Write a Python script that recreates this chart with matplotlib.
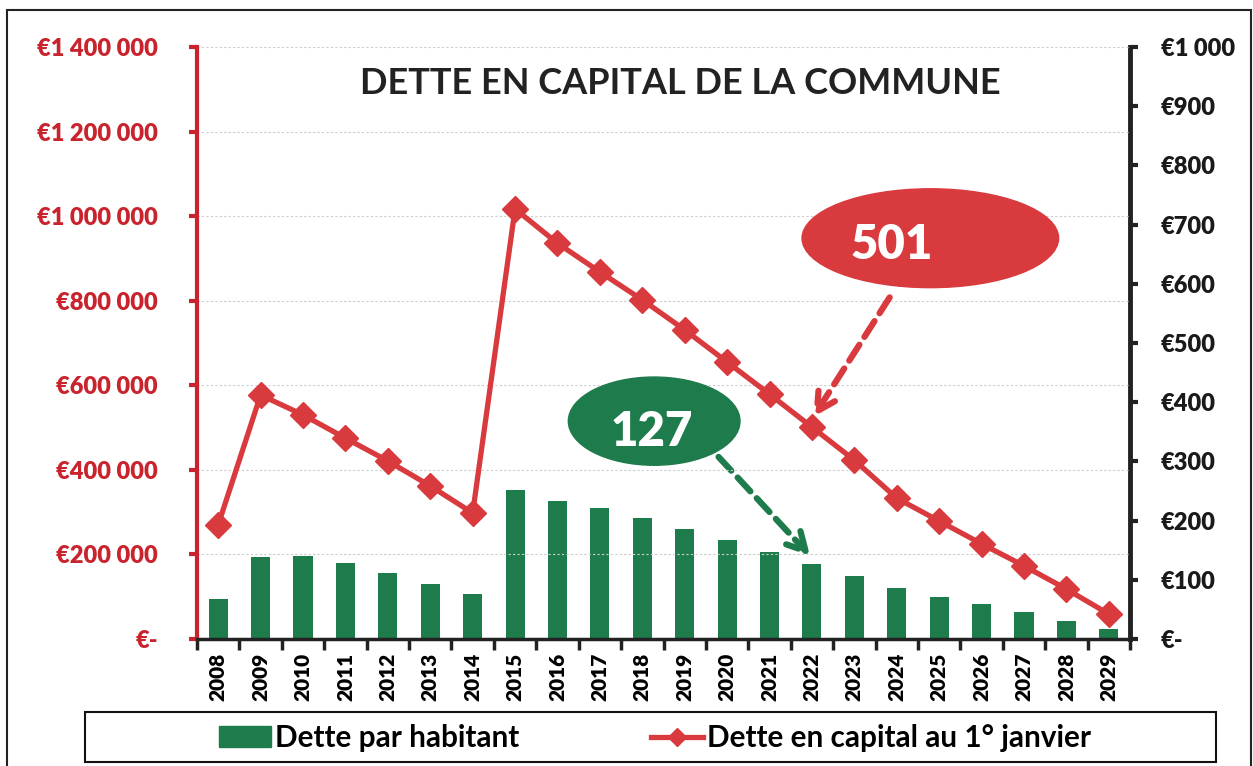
import matplotlib
matplotlib.use("Agg")
import matplotlib.pyplot as plt
from matplotlib.patches import Ellipse, Rectangle
from matplotlib.lines import Line2D
from matplotlib.ticker import FuncFormatter

years = [str(y) for y in range(2008, 2030)]
# dette en capital au 1er janvier (axe gauche, euros)
dette_capital = [270000, 577000, 530000, 475000, 421000, 362000, 298000,
                 1017000, 936000, 868000, 802000, 731000, 655000, 579000,
                 501000, 423000, 333000, 279000, 225000, 173000, 118000, 59000]
# dette par habitant (axe droit, euros)
dette_habitant = [68, 139, 140, 128, 111, 93, 76, 252, 233, 221, 204, 186,
                  167, 147, 127, 106, 86, 71, 59, 46, 30, 17]

RED = "#D93A3E"
RED_AX = "#C9232D"
GREEN = "#1E7B4C"
FONT = "Lato"

W, H = 1253, 766
fig = plt.figure(figsize=(W / 100, H / 100), dpi=100)
ax = fig.add_axes([197 / W, 1 - 639 / H, (1130 - 197) / W, (639 - 47) / H])
ax2 = ax.twinx()

x = list(range(len(years)))

# bars on the right axis, line on the left axis drawn on top
ax2.bar(x, dette_habitant, width=0.45, color=GREEN, zorder=2)
ax2.set_ylim(0, 1000)
ax.set_ylim(0, 1400000)
ax.set_xlim(-0.5, len(years) - 0.5)

ax.set_zorder(ax2.get_zorder() + 1)
ax.patch.set_visible(False)
ax.plot(x, dette_capital, color=RED, lw=3.8, marker="D", markersize=13,
        zorder=5, solid_joinstyle="miter")

# gridlines on left ticks
ax.set_yticks(range(0, 1400001, 200000))
ax.yaxis.grid(True, color="#cccccc", lw=0.8, ls=(0, (2, 2)), zorder=0)
ax.set_axisbelow(True)

def fmt_euro(v, pos):
    if v == 0:
        return "€-"
    return "€" + f"{int(v):,}".replace(",", " ")

ax.yaxis.set_major_formatter(FuncFormatter(fmt_euro))
ax2.set_yticks(range(0, 1001, 100))
ax2.yaxis.set_major_formatter(FuncFormatter(fmt_euro))

for lab in ax.get_yticklabels():
    lab.set_fontfamily(FONT)
    lab.set_fontweight("heavy")
    lab.set_fontsize(17)
for lab in ax2.get_yticklabels():
    lab.set_fontfamily(FONT)
    lab.set_fontweight("heavy")
    lab.set_fontsize(17)

ax.tick_params(axis="y", colors=RED_AX, width=3, length=6, pad=22)
ax2.tick_params(axis="y", colors="#222222", width=3, length=6, pad=16)
ax.tick_params(axis="y", labelcolor=RED_AX)
ax2.tick_params(axis="y", labelcolor="#1a1a1a")

# x ticks between categories
ax.set_xticks([i - 0.5 for i in range(len(years) + 1)])
ax.set_xticklabels([])
ax.set_xticks(x, minor=True)
ax.set_xticklabels(years, minor=True, rotation=90, fontsize=15,
                   fontweight="heavy", fontfamily=FONT)
ax.tick_params(axis="x", which="major", width=2.5, length=8, color="#222222")
ax.tick_params(axis="x", which="minor", length=0, pad=10)

for a in (ax, ax2):
    for s in a.spines.values():
        s.set_visible(False)
ax.spines["left"].set_visible(True)
ax.spines["left"].set_color(RED_AX)
ax.spines["left"].set_linewidth(3)
ax2.spines["right"].set_visible(True)
ax2.spines["right"].set_color("#222222")
ax2.spines["right"].set_linewidth(3.5)
ax.spines["bottom"].set_visible(True)
ax.spines["bottom"].set_color("#222222")
ax.spines["bottom"].set_linewidth(2.5)

# title
fig.text(680 / W, 1 - 84 / H, "DETTE EN CAPITAL DE LA COMMUNE", ha="center",
         va="center", fontsize=26, fontweight="bold", fontfamily=FONT,
         color="#222222")

# callouts
ax.add_patch(Ellipse((0.786, 0.677), 0.275, 0.167, transform=ax.transAxes,
                     color=RED, zorder=6))
ax.text(0.745, 0.665, "501", transform=ax.transAxes, ha="center", va="center",
        fontsize=34, fontweight="heavy", color="white", fontfamily=FONT, zorder=7)
ax.add_patch(Ellipse((0.490, 0.368), 0.184, 0.149, transform=ax.transAxes,
                     color=GREEN, zorder=6))
ax.text(0.487, 0.350, "127", transform=ax.transAxes, ha="center", va="center",
        fontsize=34, fontweight="heavy", color="white", fontfamily=FONT, zorder=7)

ax.annotate("", xy=(14, 520000), xycoords="data",
            xytext=(0.744, 0.581), textcoords="axes fraction",
            arrowprops=dict(arrowstyle="->,head_length=1.3,head_width=0.7",
                            color=RED, lw=4.5, ls=(0, (3, 1.5))), zorder=6)
ax2.annotate("", xy=(14, 137), xycoords="data",
             xytext=(0.557, 0.311), textcoords="axes fraction",
             arrowprops=dict(arrowstyle="->,head_length=1.3,head_width=0.7",
                             color=GREEN, lw=4.5, ls=(0, (3, 1.5))), zorder=6)

# legend
handles = [Rectangle((0, 0), 1, 1, color=GREEN),
           Line2D([], [], color=RED, lw=3.8, marker="D", markersize=9)]
labels = ["Dette par habitant", "Dette en capital au 1° janvier"]
fig.legend(handles, labels, loc="center", bbox_to_anchor=(655 / W, 1 - 738 / H),
           ncol=2, frameon=False, columnspacing=4.4, handlelength=1.75,
           handletextpad=0.15, prop={"family": FONT, "weight": "bold", "size": 21.4})
fig.add_artist(Rectangle((85 / W, 1 - 762 / H), (1216 - 85) / W, 50 / H,
                         transform=fig.transFigure, fill=False, ec="#111111",
                         lw=1.5))
fig.add_artist(Rectangle((7 / W, -0.01), (1251 - 7) / W, 1 - 10 / H + 0.01,
                         transform=fig.transFigure, fill=False, ec="#222222",
                         lw=1.5))

fig.savefig("out.png", dpi=100)
